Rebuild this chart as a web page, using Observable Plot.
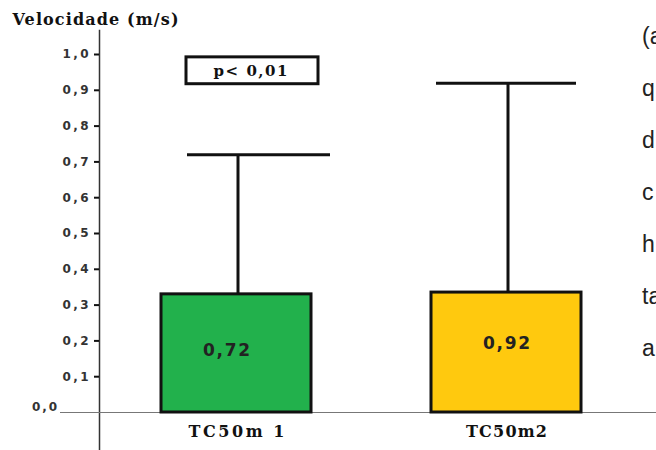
<!DOCTYPE html>
<html><head><meta charset="utf-8">
<script src="https://cdn.jsdelivr.net/npm/d3@7"></script>
<script src="https://cdn.jsdelivr.net/npm/@observablehq/plot@0.6"></script>
<style>
body{margin:0;background:#fff;width:656px;height:450px;overflow:hidden;position:relative}
#chart{position:absolute;left:0;top:0}
#side{position:absolute;left:642px;top:10px;font-family:"Liberation Sans",Arial,sans-serif;font-size:23px;color:#222;line-height:52px;white-space:nowrap}
</style></head><body><div id="chart"></div><div id="side"></div>
<script>
const categories = ["TC50m 1", "TC50m2"];
const barValues = [0.33, 0.335];
const errorTops = [0.72, 0.92];
const valueLabels = ["0,72", "0,92"];
const barColors = ["#22B14C", "#FFC90E"];
const yTicks = [0.1, 0.2, 0.3, 0.4, 0.5, 0.6, 0.7, 0.8, 0.9, 1.0];
const yAxisTitle = "Velocidade (m/s)";
const pLabel = "p< 0,01";
const pRange = [0.917, 0.992];
const sideText = ["(a", "q", "d", "c", "h", "ta", "a"];

const data = categories.map((c, i) => ({category: c, value: barValues[i], top: errorTops[i], label: valueLabels[i], color: barColors[i]}));
const serif = "'DejaVu Serif', serif";
const sans = "'DejaVu Sans', sans-serif";
const fmt = d => d.toFixed(1).replace(".", ",");

const chart = Plot.plot({
  width: 656, height: 450,
  marginLeft: 99, marginRight: 0, marginTop: 30, marginBottom: 0,
  style: {background: "#fff", overflow: "visible"},
  x: {type: "band", domain: categories, range: [101, 641], paddingInner: 0.4444, paddingOuter: 0.2222, axis: null},
  y: {domain: [0, 1], range: [412, 54], axis: null},
  color: {type: "identity"},
  marks: [
    Plot.frame({anchor: "left", stroke: "#333", strokeWidth: 1.5}),
    Plot.ruleY([0], {stroke: "#777", strokeWidth: 1, insetLeft: -39}),
    Plot.axisY(yTicks, {anchor: "left", tickSize: 5, tickPadding: 6, tickFormat: fmt, label: null,
      fontFamily: sans, fontWeight: "bold", fontSize: 12, fill: "#333", stroke: "#111", strokeWidth: 2}),
    Plot.text(["0,0"], {y: () => 0, frameAnchor: "left", textAnchor: "middle", dx: -55, dy: -5, fontFamily: sans, fontWeight: "bold", fontSize: 12, fill: "#333", ariaDescription: "zero-label"}),
    Plot.barY(data, {x: "category", y1: 0, y2: "value", fill: "color", stroke: "#111", strokeWidth: 3}),
    Plot.ruleX(data, {x: "category", y1: "value", y2: "top", stroke: "#111", strokeWidth: 3, dx: 1.5}),
    Plot.tickY(data.slice(0, 1), {x: "category", y: "top", stroke: "#111", strokeWidth: 3, insetLeft: 26, insetRight: -19}),
    Plot.tickY(data.slice(1), {x: "category", y: "top", stroke: "#111", strokeWidth: 3, insetLeft: 5, insetRight: 5}),
    Plot.barY([pLabel], {x: () => categories[0], y1: () => pRange[0], y2: () => pRange[1], fill: "white", stroke: "#111", strokeWidth: 3, insetLeft: 25, insetRight: -7}),
    Plot.text([pLabel], {x: () => categories[0], y: () => (pRange[0] + pRange[1]) / 2, dx: 14, text: d => d, fontFamily: serif, fontWeight: "bold", fontSize: 15, fill: "#111", ariaDescription: "p-label"}),
    Plot.text(data.slice(0, 1), {x: "category", y: d => d.value / 2, text: "label", dx: -10, dy: -3, fontFamily: sans, fontWeight: "bold", fontSize: 17, fill: "#222", ariaDescription: "value-label"}),
    Plot.text(data.slice(1), {x: "category", y: d => d.value / 2, text: "label", dy: -9, fontFamily: sans, fontWeight: "bold", fontSize: 17, fill: "#222", ariaDescription: "value-label"}),
    Plot.text(data, {x: "category", y: () => 0, text: "category", dy: 19, fontFamily: serif, fontWeight: "bold", fontSize: 16, fill: "#111", ariaDescription: "cat-label"}),
    Plot.text([yAxisTitle], {frameAnchor: "top-left", dx: -87, dy: -11, lineAnchor: "middle", textAnchor: "start", fontFamily: serif, fontWeight: "bold", fontSize: 16, fill: "#111", ariaDescription: "title"})
  ]
});
const fit = (sel, len) => chart.querySelectorAll(sel).forEach((t, i) => {
  t.setAttribute("textLength", Array.isArray(len) ? len[i] : len);
  t.setAttribute("lengthAdjust", "spacing");
});
fit('g[aria-label="y-axis tick label"] text', 26);
fit('g[aria-description="zero-label"] text', 25);
fit('g[aria-description="p-label"] text', 74);
fit('g[aria-description="value-label"] text', 47);
fit('g[aria-description="cat-label"] text', [96, 81]);
fit('g[aria-description="title"] text', 166);
document.getElementById("chart").appendChild(chart);
const side = document.getElementById("side");
sideText.forEach(s => { const d = document.createElement("div"); d.textContent = s; side.appendChild(d); });
</script></body></html>
